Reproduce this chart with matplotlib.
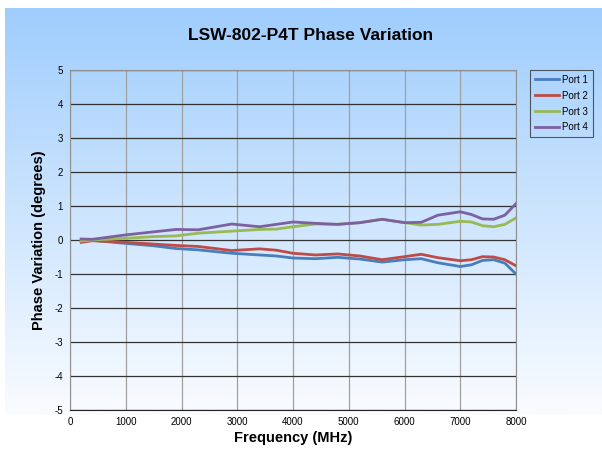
import numpy as np
import matplotlib
matplotlib.use("Agg")
import matplotlib.pyplot as plt
from matplotlib.colors import LinearSegmentedColormap

plt.rcParams['font.family'] = ['Liberation Sans', 'DejaVu Sans']
plt.rcParams['axes.unicode_minus'] = False

# frequency points (MHz) and phase variation (degrees)
freq = [200, 400, 1000, 1500, 1900, 2300, 2900, 3400, 3700, 4000, 4400, 4800,
        5200, 5600, 6000, 6300, 6600, 7000, 7200, 7400, 7600, 7800, 8000]
port1 = [0.00, -0.01, -0.10, -0.17, -0.25, -0.29, -0.39, -0.44, -0.47, -0.53, -0.55, -0.51,
         -0.56, -0.65, -0.58, -0.55, -0.67, -0.78, -0.73, -0.60, -0.58, -0.68, -1.00]
port2 = [-0.07, -0.02, -0.07, -0.12, -0.16, -0.19, -0.31, -0.26, -0.30, -0.39, -0.44, -0.41,
         -0.47, -0.58, -0.49, -0.42, -0.52, -0.61, -0.58, -0.49, -0.50, -0.58, -0.76]
port3 = [-0.03, 0.00, 0.05, 0.10, 0.12, 0.20, 0.26, 0.31, 0.32, 0.39, 0.47, 0.46,
         0.51, 0.61, 0.51, 0.44, 0.46, 0.55, 0.53, 0.42, 0.39, 0.46, 0.65]
port4 = [0.03, 0.02, 0.15, 0.24, 0.31, 0.30, 0.47, 0.39, 0.46, 0.53, 0.49, 0.46,
         0.51, 0.61, 0.51, 0.52, 0.73, 0.83, 0.75, 0.62, 0.61, 0.73, 1.07]
series = {'Port 1': port1, 'Port 2': port2, 'Port 3': port3, 'Port 4': port4}
colors = ['#4a7ebb', '#be4b48', '#98b954', '#7d60a0']

W, H = 602, 449
fig = plt.figure(figsize=(W / 100, H / 100), dpi=100)

# gradient background, light blue at the top fading to white
bg = fig.add_axes([5 / W, 1 - 415 / H, 1 - 5 / W, (415 - 8) / H], zorder=0)
cmap = LinearSegmentedColormap.from_list('bg', ['#9fcdfd', '#fafcff'])
bg.imshow(np.linspace(0, 1, 256).reshape(-1, 1), aspect='auto', cmap=cmap,
          extent=[0, 1, 0, 1])
bg.set_axis_off()

ax = fig.add_axes([70 / W, 1 - 410 / H, (516 - 70) / W, (410 - 70) / H], zorder=1)
ax.patch.set_alpha(0)

for (name, vals), c in zip(series.items(), colors):
    ax.plot(freq, vals, color=c, lw=2.0, label=name)

ax.set_xlim(0, 8000)
ax.set_ylim(-5, 5)
ax.set_xticks(range(0, 8001, 1000))
ax.set_yticks(range(-5, 6))
ax.tick_params(length=0, labelsize=7, pad=5)
ax.yaxis.grid(True, color='#333333', lw=0.9)
ax.xaxis.grid(True, color='#a0a0a0', lw=0.9)
ax.set_axisbelow(True)
for s in ['left', 'right', 'top']:
    ax.spines[s].set_color('#909090')
ax.spines['bottom'].set_color('#222222')

ax.set_xlabel('Frequency (MHz)', fontsize=10.5, fontweight='bold', labelpad=3)
ax.set_ylabel('Phase Variation (degrees)', fontsize=10.5, fontweight='bold', labelpad=6)
fig.text(0.516, 1 - 35 / H, 'LSW-802-P4T Phase Variation', ha='center', va='center',
         fontsize=12.5, fontweight='bold')

leg = ax.legend(loc='upper left', bbox_to_anchor=(530 / W, 1 - 70 / H),
                bbox_transform=fig.transFigure, fontsize=7, frameon=True,
                fancybox=False, handlelength=2.5, handletextpad=0.3,
                borderpad=0.5, labelspacing=0.6, borderaxespad=0)
leg.get_frame().set_edgecolor('#333333')
leg.get_frame().set_facecolor('none')
leg.get_frame().set_linewidth(0.8)

fig.savefig('out.png', dpi=100)
